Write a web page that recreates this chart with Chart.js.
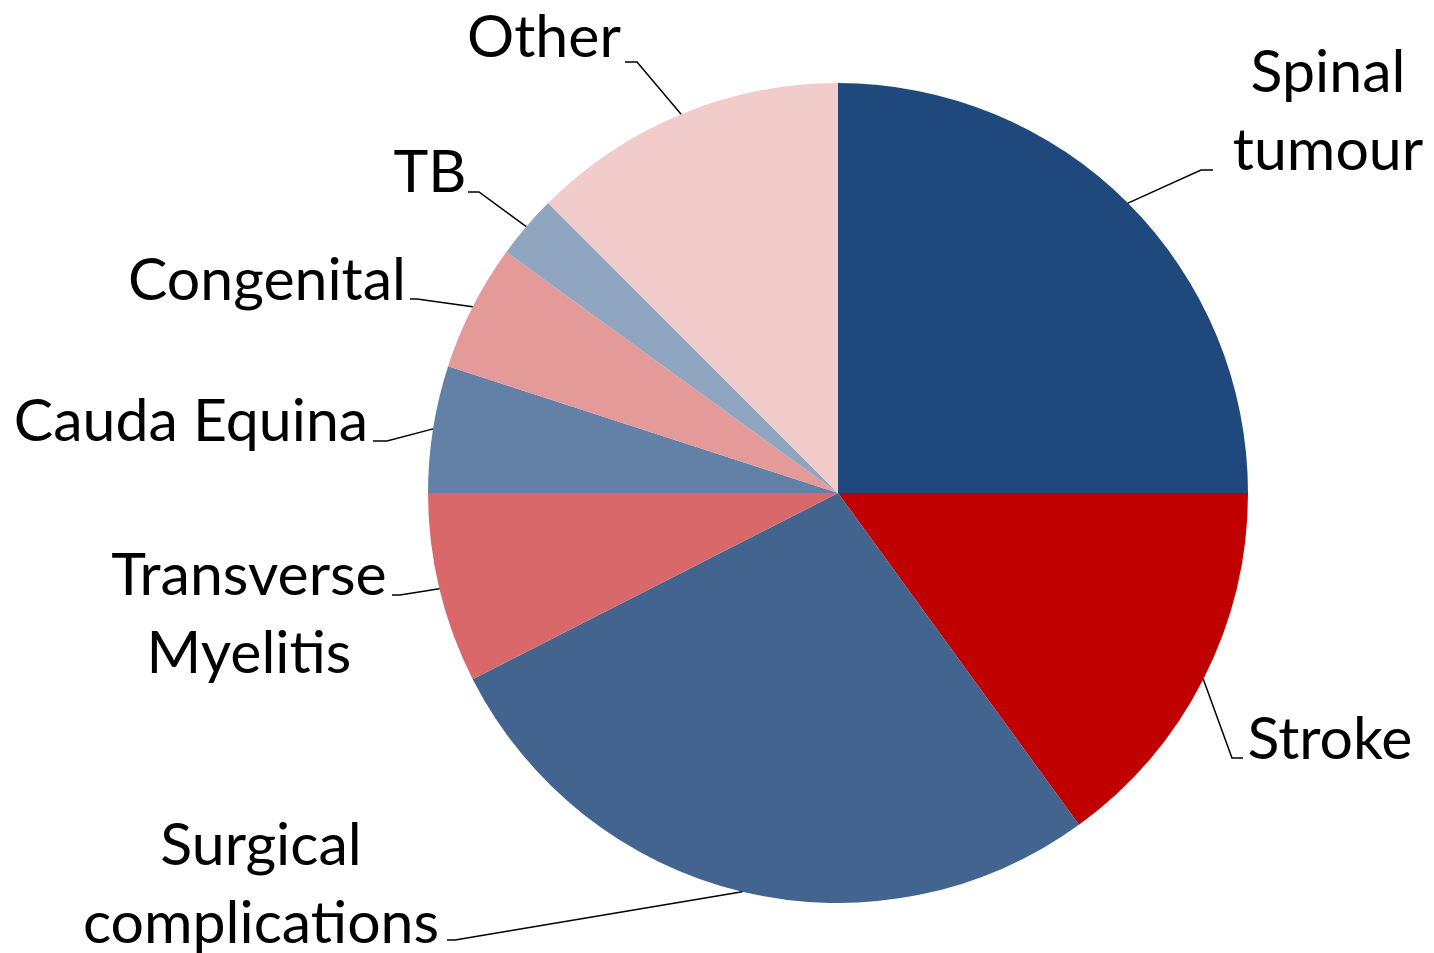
<!DOCTYPE html>
<html>
<head>
<meta charset="utf-8">
<script src="https://cdn.jsdelivr.net/npm/chart.js@4.4.1/dist/chart.umd.min.js"></script>
<style>
    html, body { margin: 0; padding: 0; background: #ffffff; }
    #wrap { width: 1434px; height: 953px; }
</style>
</head>
<body>
<div id="wrap"><canvas id="causesPie"></canvas></div>
<script>
// Categories, clockwise from 12 o'clock
const categories = [
    ['Spinal', 'tumour'],
    ['Stroke'],
    ['Surgical', 'complications'],
    ['Transverse', 'Myelitis'],
    ['Cauda Equina'],
    ['Congenital'],
    ['TB'],
    ['Other']
];
const patientCounts = [10, 6, 11, 3, 2, 2, 1, 5];
const sliceColours = ['#1F497D', '#C00000', '#42648F', '#D86869', '#6381A7', '#E49A99', '#8FA5C0', '#F2CBCB'];

// Label placement, offsets in px from the pie centre:
// text centre x / first baseline, then the short horizontal tail of the leader
const labelLayout = [
    { x: 490,  y: -401, tail: [375, -323],  elbow: [363, -323] },
    { x: 492,  y: 266,  tail: [405, 265],   elbow: [394, 265] },
    { x: -577, y: 372,  tail: [-391, 447],  elbow: [-383, 447] },
    { x: -589, y: 102,  tail: [-446, 102],  elbow: [-438, 102] },
    { x: -647, y: -52,  tail: [-465, -52],  elbow: [-451, -52] },
    { x: -571, y: -193, tail: [-428, -194], elbow: [-421, -194] },
    { x: -408, y: -301, tail: [-370, -301], elbow: [-359, -301] },
    { x: -294, y: -436, tail: [-213, -431], elbow: [-201, -431] }
];

const labelFont = '59px Lato';
const lineHeight = 78;

// Draws the category labels with leader lines to the middle of each slice
const leaderLabels = {
    id: 'leaderLabels',
    afterDatasetsDraw(chart) {
        const ctx = chart.ctx;
        const arcs = chart.getDatasetMeta(0).data;
        ctx.save();
        ctx.strokeStyle = '#000000';
        ctx.lineWidth = 1.5;
        ctx.fillStyle = '#000000';
        ctx.font = labelFont;
        ctx.textAlign = 'center';
        ctx.textBaseline = 'alphabetic';
        arcs.forEach((arc, i) => {
            const { x, y, startAngle, endAngle, outerRadius } = arc.getProps(['x', 'y', 'startAngle', 'endAngle', 'outerRadius'], true);
            const mid = (startAngle + endAngle) / 2;
            const ex = x + Math.cos(mid) * outerRadius;
            const ey = y + Math.sin(mid) * outerRadius;
            const lay = labelLayout[i];
            ctx.beginPath();
            ctx.moveTo(ex, ey);
            ctx.lineTo(x + lay.elbow[0], y + lay.elbow[1]);
            ctx.lineTo(x + lay.tail[0], y + lay.tail[1]);
            ctx.stroke();
            categories[i].forEach((line, j) => {
                ctx.fillText(line, x + lay.x, y + lay.y + j * lineHeight);
            });
        });
        ctx.restore();
    }
};

new Chart(document.getElementById('causesPie'), {
    type: 'pie',
    data: {
        labels: categories,
        datasets: [{
            data: patientCounts,
            backgroundColor: sliceColours,
            borderWidth: 0,
            hoverOffset: 0
        }]
    },
    options: {
        responsive: true,
        maintainAspectRatio: false,
        animation: false,
        layout: {
            padding: { left: 428, right: 186, top: 83, bottom: 50 }
        },
        plugins: {
            legend: { display: false },
            tooltip: { enabled: false }
        }
    },
    plugins: [leaderLabels]
});
</script>
</body>
</html>
